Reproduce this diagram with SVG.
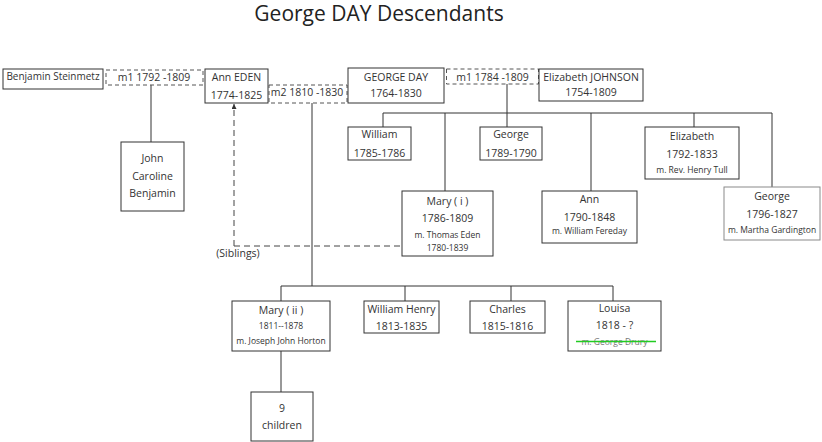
<svg xmlns="http://www.w3.org/2000/svg" width="822" height="442" viewBox="0 0 822 442">
<defs>
<marker id="ah" viewBox="0 0 6 6" refX="6" refY="3" markerWidth="5" markerHeight="5" markerUnits="userSpaceOnUse" orient="auto">
<path d="M0,0 L6,3 L0,6 z" fill="#333"/>
</marker>
<style>
text{font-family:"Open Sans","Liberation Sans",sans-serif;fill:#333;text-anchor:middle;font-size:10.5px}
.title{font-size:21px;fill:#222}
.sm{font-size:8.5px}
.box{fill:#fff;stroke:#333;stroke-width:1}
.gbox{fill:#fff;stroke:#8a8a8a;stroke-width:1}
.dash{fill:none;stroke:#555;stroke-width:1;stroke-dasharray:4,3}
.ln{fill:none;stroke:#333;stroke-width:1}
.sib{fill:none;stroke:#444;stroke-width:1;stroke-dasharray:6,4}
</style>
</defs>
<rect width="822" height="442" fill="#fff"/>
<text class="title" x="379" y="21">George DAY Descendants</text>

<g id="connectors">
<line class="ln" x1="151" y1="85" x2="151" y2="142"/>
<line class="ln" x1="312" y1="103" x2="312" y2="286"/>
<line class="ln" x1="507" y1="84" x2="507" y2="113"/>
<path class="ln" d="M383,127 V113 H772 V187"/>
<line class="ln" x1="445" y1="113" x2="445" y2="191"/>
<line class="ln" x1="507" y1="113" x2="507" y2="127"/>
<line class="ln" x1="591" y1="113" x2="591" y2="191"/>
<line class="ln" x1="694" y1="113" x2="694" y2="127"/>
<path class="ln" d="M281,301 V286 H613 V301"/>
<line class="ln" x1="405" y1="286" x2="405" y2="301"/>
<line class="ln" x1="511" y1="286" x2="511" y2="301"/>
<line class="ln" x1="281" y1="351" x2="281" y2="392"/>
<path class="sib" d="M234,246 V104" marker-end="url(#ah)"/>
<path class="sib" d="M234,246 H413" marker-end="url(#ah)"/>
<text x="238" y="257">(Siblings)</text>
</g>

<g id="benjamin-steinmetz"><rect class="box" x="3" y="69" width="100" height="20"/><text x="53" y="80" style="font-size:10px">Benjamin Steinmetz</text></g>
<g id="marriage-1792"><rect class="dash" x="106" y="70" width="97" height="15"/><text x="154" y="81">m1 1792 -1809</text></g>
<g id="ann-eden"><rect class="box" x="205" y="69" width="63" height="34"/><text x="236.5" y="81">Ann EDEN</text><text x="236.5" y="99">1774-1825</text></g>
<g id="marriage-1810"><rect class="dash" x="269" y="85" width="78" height="18"/><text x="307" y="96">m2 1810 -1830</text></g>
<g id="george-day"><rect class="box" x="348" y="68" width="96" height="35"/><text x="396" y="81">GEORGE DAY</text><text x="396" y="97">1764-1830</text></g>
<g id="marriage-1784"><rect class="dash" x="446.5" y="69" width="92" height="15"/><text x="492.5" y="81">m1 1784 -1809</text></g>
<g id="elizabeth-johnson"><rect class="box" x="539" y="69" width="104" height="32"/><text x="591" y="81">Elizabeth JOHNSON</text><text x="591" y="96">1754-1809</text></g>

<g id="steinmetz-children"><rect class="box" x="121" y="142" width="63" height="69"/><text x="152.5" y="162">John</text><text x="152.5" y="180">Caroline</text><text x="152.5" y="197">Benjamin</text></g>

<g id="william"><rect class="box" x="348" y="127" width="63" height="33"/><text x="379.5" y="138">William</text><text x="379.5" y="157">1785-1786</text></g>
<g id="george-1789"><rect class="box" x="480" y="127" width="62" height="33"/><text x="511" y="138">George</text><text x="511" y="157">1789-1790</text></g>
<g id="elizabeth"><rect class="box" x="645" y="127" width="94" height="52"/><text x="692" y="140">Elizabeth</text><text x="692" y="158">1792-1833</text><text class="sm" x="692" y="173">m. Rev. Henry Tull</text></g>
<g id="mary-i"><rect class="box" x="402" y="191" width="91" height="65"/><text x="447.5" y="205">Mary ( i )</text><text x="447.5" y="222">1786-1809</text><text class="sm" x="447.5" y="238">m. Thomas Eden</text><text class="sm" x="447.5" y="251">1780-1839</text></g>
<g id="ann"><rect class="box" x="542" y="191" width="95" height="52"/><text x="589.5" y="203">Ann</text><text x="589.5" y="221">1790-1848</text><text class="sm" x="589.5" y="234">m. William Fereday</text></g>
<g id="george-1796"><rect class="gbox" x="724" y="187" width="96" height="53"/><text x="772" y="200">George</text><text x="772" y="218">1796-1827</text><text class="sm" x="772" y="233">m. Martha Gardington</text></g>

<g id="mary-ii"><rect class="box" x="232" y="301" width="98" height="50"/><text x="281" y="314">Mary ( ii )</text><text class="sm" x="281" y="329">1811--1878</text><text class="sm" x="281" y="344">m. Joseph John Horton</text></g>
<g id="william-henry"><rect class="box" x="364" y="301" width="75" height="32"/><text x="401.5" y="313">William Henry</text><text x="401.5" y="330">1813-1835</text></g>
<g id="charles"><rect class="box" x="470" y="301" width="75" height="32"/><text x="507.5" y="313">Charles</text><text x="507.5" y="330">1815-1816</text></g>
<g id="louisa"><rect class="box" x="568" y="301" width="93" height="50"/><text x="614.5" y="312">Louisa</text><text x="614.5" y="329">1818 - ?</text><text class="sm" x="614.5" y="345" style="fill:#777">m. George Drury</text><line x1="576" y1="341.5" x2="656" y2="341.5" stroke="#22cc22" stroke-width="1.5"/></g>
<g id="nine-children"><rect class="box" x="251" y="392" width="62" height="49"/><text x="282" y="412">9</text><text x="282" y="429">children</text></g>
</svg>
